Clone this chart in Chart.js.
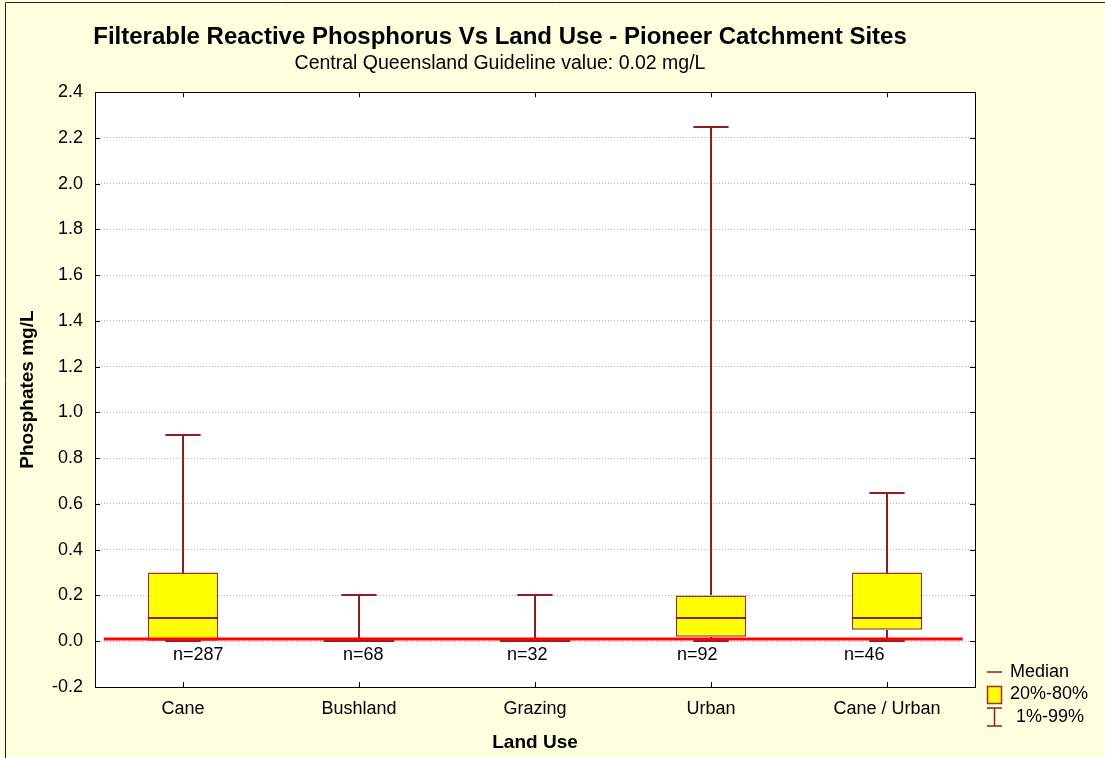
<!DOCTYPE html>
<html>
<head>
<meta charset="utf-8">
<title>Filterable Reactive Phosphorus Vs Land Use</title>
<script src="https://cdn.jsdelivr.net/npm/chart.js@4.4.1/dist/chart.umd.min.js"></script>
<style>
  html, body { margin: 0; padding: 0; background: #ffffe0; }
  canvas { display: block; }
</style>
</head>
<body>
<canvas id="frpChart" width="1105" height="758"></canvas>
<script>
// percentiles per land use (mg/L)
var landUse = ['Cane', 'Bushland', 'Grazing', 'Urban', 'Cane / Urban'];
var p01 = [0, 0, 0, 0, 0];
var p20 = [0, 0, 0, 0.02, 0.05];
var median = [0.1, 0, 0, 0.1, 0.1];
var p80 = [0.3, 0, 0, 0.2, 0.3];
var p99 = [0.9, 0.2, 0.2, 2.25, 0.65];
var sampleN = [287, 68, 32, 92, 46];
var guidelineValue = 0.01;
var guidelineSpan = [-0.45, 4.43];

var creamBg = '#ffffe0';
var boxFill = '#ffff00';
var boxEdge = '#993333';
var whiskerColor = '#8f1f1f';
var nLabelDx = [-10, -16, -28, -34, -43];

Chart.defaults.font.family = '"Liberation Sans", Arial, sans-serif';
Chart.defaults.color = '#000';

var boxData = landUse.map(function(l, i) { return [p20[i], p80[i]]; });

var boxPlotExtras = {
	id: 'boxPlotExtras',
	beforeDraw: function(chart) {
		var c = chart.ctx, a = chart.chartArea;
		c.save();
		c.fillStyle = creamBg;
		c.fillRect(0, 0, chart.width, chart.height);
		c.fillStyle = '#ffffff';
		c.fillRect(a.left, a.top, a.right - a.left, a.bottom - a.top);
		c.strokeStyle = '#222';
		c.lineWidth = 1;
		c.beginPath();
		c.moveTo(5.5, chart.height);
		c.lineTo(5.5, 2.5);
		c.lineTo(chart.width, 2.5);
		c.stroke();
		c.restore();
	},
	afterDatasetsDraw: function(chart) {
		var c = chart.ctx, xs = chart.scales.x, y = chart.scales.y;
		var meta = chart.getDatasetMeta(0);
		c.save();
		c.strokeStyle = whiskerColor;
		c.lineWidth = 2;
		meta.data.forEach(function(bar, i) {
			var x = Math.round(bar.x);
			var hw = bar.width / 2, cw = hw / 2;
			var yTop = Math.round(y.getPixelForValue(p99[i]));
			var yHi = Math.round(y.getPixelForValue(p80[i]));
			var yLo = Math.round(y.getPixelForValue(p20[i]));
			var yBot = Math.round(y.getPixelForValue(p01[i]));
			var yMed = Math.round(y.getPixelForValue(median[i]));
			c.beginPath();
			c.moveTo(x, yTop); c.lineTo(x, yHi);
			c.moveTo(x, yLo); c.lineTo(x, yBot);
			c.moveTo(x - cw, yTop); c.lineTo(x + cw, yTop);
			c.moveTo(x - cw, yBot); c.lineTo(x + cw, yBot);
			c.stroke();
			c.beginPath();
			c.moveTo(x - hw, yMed); c.lineTo(x + hw, yMed);
			c.stroke();
		});
		// guideline
		var gy = y.getPixelForValue(guidelineValue);
		c.strokeStyle = '#ff0000';
		c.lineWidth = 3;
		c.beginPath();
		c.moveTo(xs.getPixelForValue(guidelineSpan[0]), gy);
		c.lineTo(xs.getPixelForValue(guidelineSpan[1]), gy);
		c.stroke();
		c.restore();
	},
	afterDraw: function(chart) {
		var c = chart.ctx, a = chart.chartArea, xs = chart.scales.x, y = chart.scales.y;
		c.save();
		// inside tick marks
		c.strokeStyle = '#000';
		c.lineWidth = 1;
		c.beginPath();
		y.ticks.forEach(function(t) {
			var py = Math.round(y.getPixelForValue(t.value)) + 0.5;
			c.moveTo(a.left, py); c.lineTo(a.left + 5, py);
			c.moveTo(a.right, py); c.lineTo(a.right - 5, py);
		});
		landUse.forEach(function(l, i) {
			var px = Math.round(xs.getPixelForValue(i)) + 0.5;
			c.moveTo(px, a.bottom); c.lineTo(px, a.bottom - 5);
			c.moveTo(px, a.top); c.lineTo(px, a.top + 5);
		});
		c.stroke();
		c.strokeRect(Math.round(a.left) + 0.5, Math.round(a.top) + 0.5,
			Math.round(a.right - a.left), Math.round(a.bottom - a.top));

		// sample counts under each box
		c.font = '18px "Liberation Sans", Arial, sans-serif';
		c.fillStyle = '#000';
		c.textAlign = 'left';
		c.textBaseline = 'middle';
		var y0 = y.getPixelForValue(0);
		sampleN.forEach(function(n, i) {
			c.fillText('n=' + n, xs.getPixelForValue(i) + nLabelDx[i], y0 + 14);
		});

		// legend
		var lx = a.right + 12, ly = a.bottom;
		c.strokeStyle = whiskerColor;
		c.lineWidth = 1.5;
		c.beginPath();
		c.moveTo(lx, ly - 15); c.lineTo(lx + 15, ly - 15);
		c.stroke();
		c.fillStyle = boxFill;
		c.fillRect(lx, ly - 1, 14, 17);
		c.strokeStyle = boxEdge;
		c.strokeRect(lx + 0.5, ly - 0.5, 14, 17);
		c.strokeStyle = whiskerColor;
		c.beginPath();
		c.moveTo(lx, ly + 21); c.lineTo(lx + 15, ly + 21);
		c.moveTo(lx + 7.5, ly + 21); c.lineTo(lx + 7.5, ly + 39);
		c.moveTo(lx, ly + 39); c.lineTo(lx + 15, ly + 39);
		c.stroke();
		c.fillStyle = '#000';
		c.fillText('Median', lx + 23, ly - 15);
		c.fillText('20%-80%', lx + 23, ly + 7);
		c.fillText('1%-99%', lx + 29, ly + 30);
		c.restore();
	}
};

var ctx = document.getElementById('frpChart').getContext('2d');
var frpChart = new Chart(ctx, {
	type: 'bar',
	data: {
		labels: landUse,
		datasets: [{
			label: '20%-80%',
			data: boxData,
			backgroundColor: boxFill,
			borderColor: boxEdge,
			borderWidth: 1.5,
			borderSkipped: false,
			barPercentage: 0.4,
			categoryPercentage: 1
		}]
	},
	options: {
		responsive: false,
		animation: false,
		devicePixelRatio: 1,
		layout: {padding: {left: 25, right: 130, top: 0, bottom: 0}},
		plugins: {
			legend: {display: false},
			tooltip: {enabled: false},
			title: {
				display: true,
				text: 'Filterable Reactive Phosphorus Vs Land Use - Pioneer Catchment Sites',
				font: {size: 24, weight: 'bold'},
				color: '#000',
				padding: {top: 23, bottom: 0}
			},
			subtitle: {
				display: true,
				text: 'Central Queensland Guideline value: 0.02 mg/L',
				font: {size: 19.5},
				color: '#000',
				padding: {top: 0, bottom: 17}
			}
		},
		scales: {
			x: {
				grid: {display: false, drawTicks: false},
				border: {display: false},
				ticks: {font: {size: 18}, padding: 11},
				title: {display: true, text: 'Land Use', font: {size: 19, weight: 'bold'}, padding: {top: 0, bottom: 4}},
				afterFit: function(s) { s.height = 71; }
			},
			y: {
				min: -0.2,
				max: 2.4,
				ticks: {
					stepSize: 0.2,
					font: {size: 18},
					padding: 12,
					callback: function(v) { return (Math.abs(v) < 1e-9 ? 0 : v).toFixed(1); }
				},
				grid: {color: '#b4b4b4', lineWidth: 1, drawTicks: false},
				border: {display: false, dash: [1, 2]},
				title: {display: true, text: 'Phosphates mg/L', font: {size: 19, weight: 'bold'}, padding: {top: -9, bottom: 0}},
				afterFit: function(s) { s.width = 70; }
			}
		}
	},
	plugins: [boxPlotExtras]
});
</script>
</body>
</html>
